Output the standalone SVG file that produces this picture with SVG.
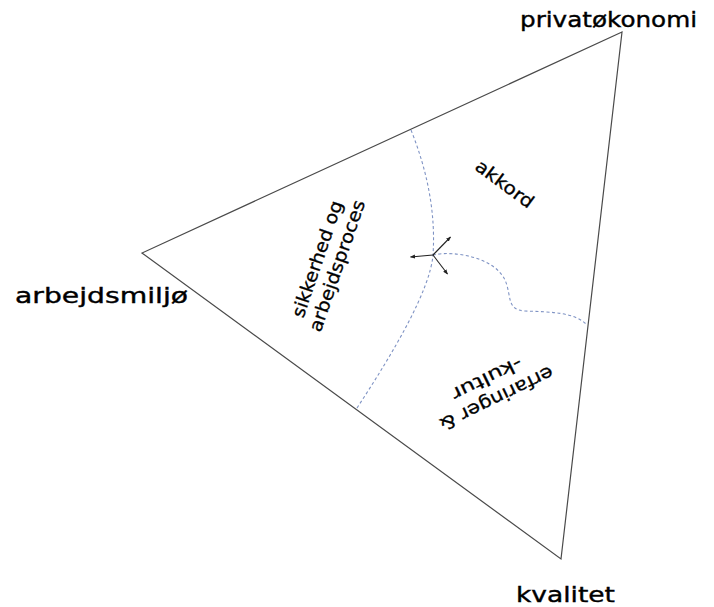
<svg xmlns="http://www.w3.org/2000/svg" width="714" height="607" viewBox="0 0 714 607">
<style>
  .lbl { font-family: "DejaVu Sans", "Liberation Sans", sans-serif; fill: #000; stroke: #000; stroke-width: 0.4; }
  .big { font-size: 22px; }
  .small { font-size: 18px; stroke-width: 0.3; }
  .edge { fill: none; stroke: #4a4a4a; stroke-width: 1.2; }
  .dash { fill: none; stroke: #7f93c4; stroke-width: 1.1; stroke-dasharray: 3 2.5; }
  .arr { fill: none; stroke: #222; stroke-width: 1.1; marker-end: url(#ah); }
</style>
<defs>
  <marker id="ah" viewBox="0 0 10 10" refX="9" refY="5" markerWidth="5" markerHeight="5" orient="auto" markerUnits="userSpaceOnUse">
    <path d="M0,1 L10,5 L0,9 z" fill="#222"/>
  </marker>
</defs>
<rect width="714" height="607" fill="#fff"/>
<g id="triangle">
  <path class="edge" d="M622,32 L142,253 L561,559 Z"/>
</g>
<g id="boundaries">
  <path class="dash" d="M411,130 Q437,195 433,255 C430,290 395,350 357,408"/>
  <path class="dash" d="M433,255 C455,250 495,258 505,280 C512,296 506,310 525,311 C550,312 575,312 587,325"/>
</g>
<g id="connectors">
  <line class="arr" x1="433" y1="255" x2="450.5" y2="237"/>
  <line class="arr" x1="433" y1="255" x2="410.5" y2="257"/>
  <line class="arr" x1="433" y1="255" x2="447.5" y2="274"/>
</g>
<g id="privatokonomi">
  <text class="lbl big" x="520" y="27" textLength="177" lengthAdjust="spacingAndGlyphs">privatøkonomi</text>
</g>
<g id="arbejdsmiljo">
  <text class="lbl big" x="15" y="303" textLength="173" lengthAdjust="spacingAndGlyphs">arbejdsmiljø</text>
</g>
<g id="kvalitet">
  <text class="lbl big" x="516" y="602" textLength="99" lengthAdjust="spacingAndGlyphs">kvalitet</text>
</g>
<g id="sikkerhed" transform="translate(323,261) rotate(-71)">
  <text class="lbl small" x="0" y="0" text-anchor="middle" textLength="122" lengthAdjust="spacingAndGlyphs">sikkerhed og</text>
  <text class="lbl small" x="0" y="21" text-anchor="middle" textLength="138" lengthAdjust="spacingAndGlyphs">arbejdsproces</text>
</g>
<g id="akkord" transform="translate(501,189) rotate(36.5)">
  <text class="lbl small" x="0" y="0" text-anchor="middle" textLength="68" lengthAdjust="spacingAndGlyphs">akkord</text>
</g>
<g id="erfaringer" transform="translate(494,393) rotate(154)">
  <text class="lbl small" x="0" y="0" text-anchor="middle" textLength="124" lengthAdjust="spacingAndGlyphs">erfaringer &amp;</text>
  <text class="lbl small" x="0" y="22" text-anchor="middle" textLength="76" lengthAdjust="spacingAndGlyphs">-kultur</text>
</g>
</svg>
